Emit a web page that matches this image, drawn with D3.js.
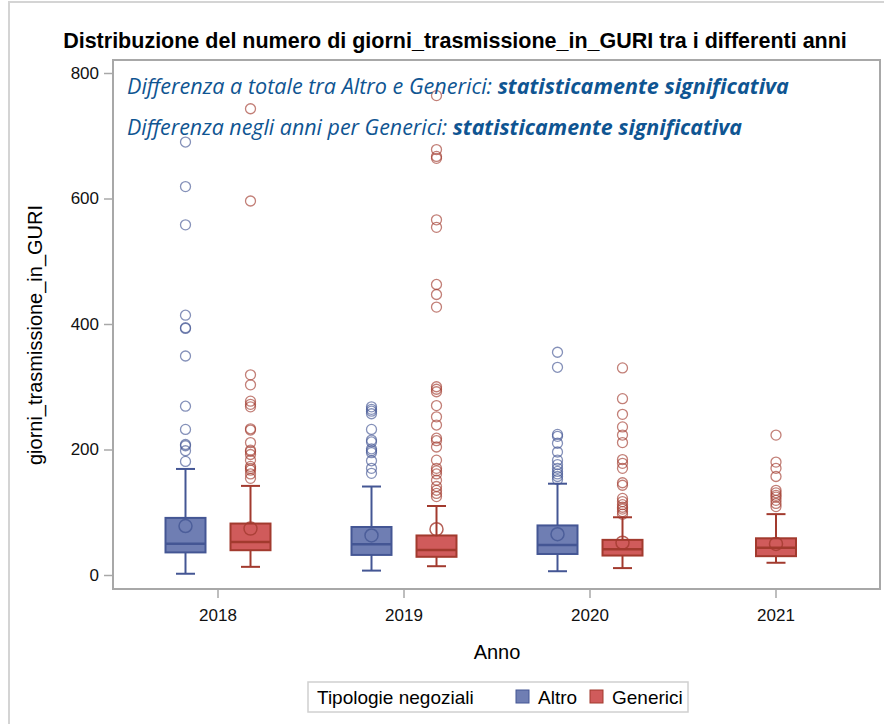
<!DOCTYPE html>
<html>
<head>
<meta charset="utf-8">
<script src="https://cdn.jsdelivr.net/npm/d3@7"></script>
<style>
  body { margin: 0; background: #fff; }
</style>
</head>
<body>
<svg id="chart"></svg>
<script>
// categories and groups
const years = ["2018", "2019", "2020", "2021"];
const groups = ["Altro", "Generici"];
const yTicks = [0, 200, 400, 600, 800];

// box stats: [year, whiskerLow, q1, median, q3, whiskerHigh, mean]
const altroBox = [
  ["2018", 2, 36, 50, 91, 169, 78],
  ["2019", 7, 32, 49, 76.5, 141, 63],
  ["2020", 6, 33.5, 48, 79, 145.5, 65]
];
const genericiBox = [
  ["2018", 13, 39.5, 52.5, 82, 142, 74],
  ["2019", 14, 29, 40, 63, 110, 73],
  ["2020", 11, 31, 41, 56, 92, 51.5],
  ["2021", 19.5, 30, 43.5, 58.5, 97, 49.5]
];

// outliers per group and year
const altroOut2018 = [690, 619, 558, 414, 394, 393, 349, 269, 232, 208, 206, 198, 181];
const altroOut2019 = [268, 264, 261, 257, 232, 215, 212, 201, 198, 195, 182, 170, 162];
const altroOut2020 = [355, 331, 224, 221, 210, 196, 183, 176, 170, 165, 161, 157, 152];
const genericiOut2018 = [743, 596, 319, 303, 277, 272, 268, 233, 231, 211, 199, 197, 192, 183, 173, 170, 167, 161, 154];
const genericiOut2019 = [764, 678, 667, 664, 566, 554, 463, 447, 427, 300, 296, 292, 270, 252, 239, 218, 214, 204, 183, 170, 166, 161, 151, 141, 135, 130, 125];
const genericiOut2020 = [330, 281, 256, 236, 223, 211, 184, 178, 170, 147, 143, 122, 117, 112, 108, 105, 101, 97];
const genericiOut2021 = [223, 180, 170, 157, 135, 131, 127, 124, 119, 114, 109];

const outliers = {
  Altro: { "2018": altroOut2018, "2019": altroOut2019, "2020": altroOut2020 },
  Generici: { "2018": genericiOut2018, "2019": genericiOut2019, "2020": genericiOut2020, "2021": genericiOut2021 }
};

const fills = { Altro: "#6f7eb3", Generici: "#d05b5b" };
const strokes = { Altro: "#445694", Generici: "#a23a2e" };

const W = 884, H = 724;
const plot = { left: 113, top: 60, right: 880, bottom: 589 };

const svg = d3.select("#chart").attr("width", W).attr("height", H)
  .style("font-family", "'Liberation Sans', Arial, sans-serif");

// outer border
svg.append("rect")
  .attr("x", 9).attr("y", 2).attr("width", W + 10).attr("height", H + 10)
  .attr("fill", "none").attr("stroke", "#d4d4d4").attr("stroke-width", 2);

// title
const title = svg.append("text")
  .attr("x", 455).attr("y", 48)
  .attr("text-anchor", "middle")
  .attr("font-weight", "bold")
  .attr("font-size", 19)
  .text("Distribuzione del numero di giorni_trasmissione_in_GURI tra i differenti anni");
fitWidth(title, 784);

// scales
const x = d3.scaleBand().domain(years).range([125, 869]).padding(0);
const y = d3.scaleLinear().domain([0, 800]).range([575, 73]);

// frame
svg.append("rect")
  .attr("x", plot.left).attr("y", plot.top)
  .attr("width", plot.right - plot.left).attr("height", plot.bottom - plot.top)
  .attr("fill", "none").attr("stroke", "#a8a8a8").attr("stroke-width", 2);

// y axis
const yAxisG = svg.append("g")
  .attr("transform", `translate(${plot.left},0)`)
  .call(d3.axisLeft(y).tickValues(yTicks).tickSize(9).tickPadding(5));
yAxisG.select(".domain").remove();
yAxisG.selectAll(".tick line").attr("stroke", "#a8a8a8").attr("stroke-width", 1.5);
yAxisG.selectAll(".tick text").attr("font-size", 17).attr("fill", "#111")
  .attr("font-family", "'Liberation Sans', Arial, sans-serif");

// x axis
const xAxisG = svg.append("g")
  .attr("transform", `translate(0,${plot.bottom})`)
  .call(d3.axisBottom(x).tickSize(9).tickPadding(11));
xAxisG.select(".domain").remove();
xAxisG.selectAll(".tick line").attr("stroke", "#a8a8a8").attr("stroke-width", 1.5);
xAxisG.selectAll(".tick text").attr("font-size", 17).attr("fill", "#111")
  .attr("font-family", "'Liberation Sans', Arial, sans-serif");

// axis labels
svg.append("text")
  .attr("transform", "translate(42,335) rotate(-90)")
  .attr("text-anchor", "middle")
  .attr("font-size", 20)
  .text("giorni_trasmissione_in_GURI");

svg.append("text")
  .attr("x", 497).attr("y", 659)
  .attr("text-anchor", "middle")
  .attr("font-size", 20)
  .text("Anno");

// boxes
const boxW = 40, capW = 19;
const chart = svg.append("g");

function drawGroup(group, rows) {
  rows.forEach(r => {
    const [yr, lo, q1, med, q3, hi, mean] = r;
    const present = groups.filter(g => (g === "Altro" ? altroBox : genericiBox).some(d => d[0] === yr));
    const inner = d3.scaleBand().domain(present).range([-65, 65]);
    const cx = x(yr) + x.bandwidth() / 2 + (present.length > 1 ? inner(group) + inner.bandwidth() / 2 : 0);
    const g = chart.append("g");
    const st = strokes[group];

    // whiskers
    g.append("line").attr("x1", cx).attr("x2", cx).attr("y1", y(q3)).attr("y2", y(hi))
      .attr("stroke", st).attr("stroke-width", 2);
    g.append("line").attr("x1", cx).attr("x2", cx).attr("y1", y(q1)).attr("y2", y(lo))
      .attr("stroke", st).attr("stroke-width", 2);
    [lo, hi].forEach(v => {
      g.append("line").attr("x1", cx - capW / 2).attr("x2", cx + capW / 2)
        .attr("y1", y(v)).attr("y2", y(v))
        .attr("stroke", st).attr("stroke-width", 2);
    });

    // box
    g.append("rect")
      .attr("x", cx - boxW / 2).attr("y", y(q3))
      .attr("width", boxW).attr("height", y(q1) - y(q3))
      .attr("fill", fills[group]).attr("stroke", st).attr("stroke-width", 2);
    g.append("line").attr("x1", cx - boxW / 2).attr("x2", cx + boxW / 2)
      .attr("y1", y(med)).attr("y2", y(med))
      .attr("stroke", st).attr("stroke-width", 2.5);

    // mean
    g.append("circle").attr("cx", cx).attr("cy", y(mean)).attr("r", 6.5)
      .attr("fill", "none").attr("stroke", st).attr("stroke-width", 1.5).attr("stroke-opacity", 0.8);

    // outliers
    g.selectAll(".out")
      .data(outliers[group][yr] || [])
      .join("circle")
        .attr("class", "out")
        .attr("cx", cx).attr("cy", d => y(d)).attr("r", 5)
        .attr("fill", "none").attr("stroke", st)
        .attr("stroke-width", 1.3).attr("stroke-opacity", 0.65);
  });
}
drawGroup("Altro", altroBox);
drawGroup("Generici", genericiBox);

// inset text
const insetLines = [
  ["Differenza a totale tra Altro e Generici: ", "statisticamente significativa", 94, 662],
  ["Differenza negli anni per Generici: ", "statisticamente significativa", 135, 615]
];
insetLines.forEach(([a, b, yy, w]) => {
  const t = svg.append("text")
    .attr("x", 127).attr("y", yy)
    .attr("font-family", "'Open Sans', sans-serif")
    .attr("font-style", "italic")
    .attr("font-size", 19)
    .attr("fill", "#0f5592");
  t.append("tspan").text(a);
  t.append("tspan").attr("font-weight", "bold").text(b);
  fitWidth(t, w);
});

// legend
const leg = svg.append("g");
leg.append("rect")
  .attr("x", 308).attr("y", 682).attr("width", 380).attr("height", 30)
  .attr("fill", "#fff").attr("stroke", "#d0d0d0").attr("stroke-width", 1.5);
leg.append("text").attr("x", 317).attr("y", 704).attr("font-size", 19)
  .text("Tipologie negoziali");
const legX = { Altro: 516, Generici: 590 };
groups.forEach(gname => {
  leg.append("rect")
    .attr("x", legX[gname]).attr("y", 690).attr("width", 13).attr("height", 13)
    .attr("fill", fills[gname]).attr("stroke", strokes[gname]).attr("stroke-width", 1);
  leg.append("text").attr("x", legX[gname] + 22).attr("y", 704).attr("font-size", 19)
    .text(gname);
});

function fitWidth(sel, target) {
  const w = sel.node().getComputedTextLength();
  const fs = parseFloat(sel.attr("font-size"));
  sel.attr("font-size", (fs * target / w).toFixed(2));
}
</script>
</body>
</html>
